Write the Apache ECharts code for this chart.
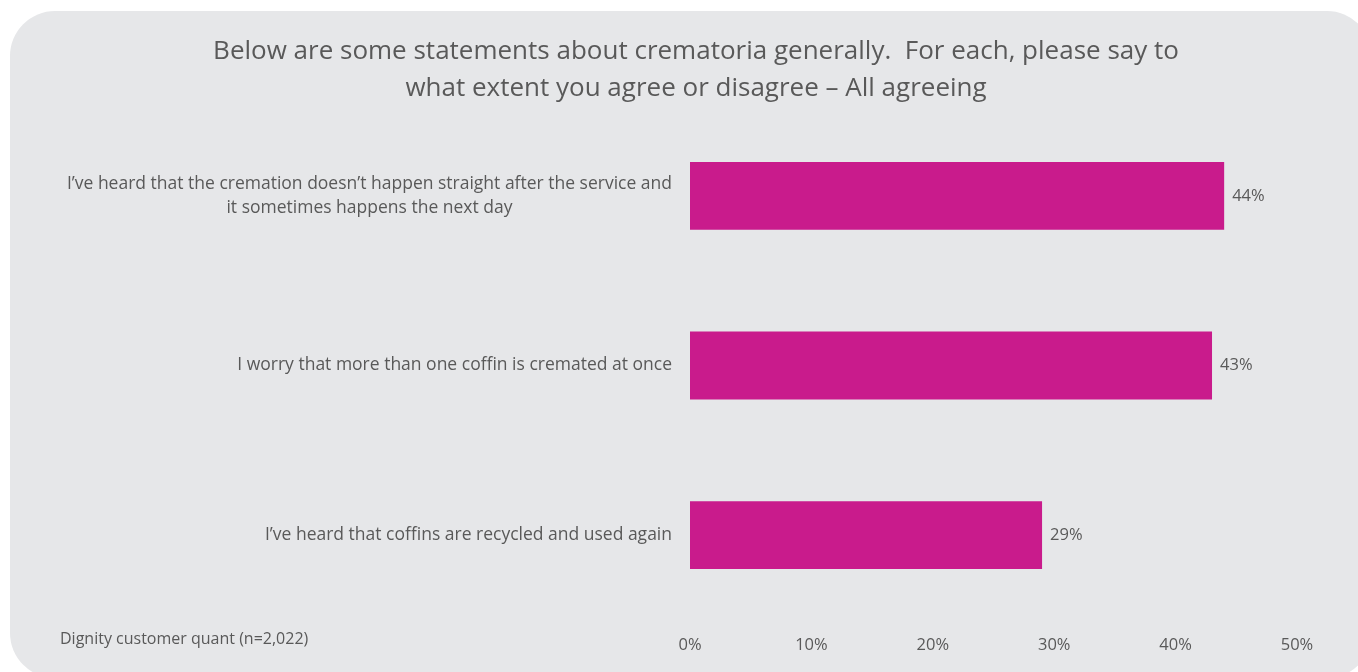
<!DOCTYPE html>
<html>
<head>
<meta charset="utf-8">
<script src="https://cdn.jsdelivr.net/npm/echarts@6/dist/echarts.min.js"></script>
<style>
html,body{margin:0;padding:0;background:#ffffff;}
#chart{width:1358px;height:672px;}
</style>
</head>
<body>
<div id="chart"></div>
<script>
const titleLines = ["Below are some statements about crematoria generally.  For each, please say to", "what extent you agree or disagree \u2013 All agreeing"];
const categories = [
  "I\u2019ve heard that the cremation doesn\u2019t happen straight after the service and\nit sometimes happens the next day",
  "I worry that more than one coffin is cremated at once",
  "I\u2019ve heard that coffins are recycled and used again"
];
const values = [44, 43, 29];
const xTickValues = [0, 10, 20, 30, 40, 50];
const footnote = "Dignity customer quant (n=2,022)";

const FONT = "'Open Sans', 'Noto Sans', sans-serif";
const TEXT = "#595959";

const chart = echarts.init(document.getElementById('chart'), null, {renderer: 'canvas'});
chart.setOption({
  backgroundColor: '#ffffff',
  animation: false,
  graphic: [
    {type: 'rect', z: -10, shape: {x: 10, y: 11, width: 1362, height: 667, r: 45}, style: {fill: '#e6e7e9'}},
    {type: 'text', left: 60, top: 631, style: {text: footnote, font: "16px " + FONT, fill: TEXT}}
  ],
  title: {
    text: titleLines.join('\n'),
    left: 691, top: 28, textAlign: 'center',
    textStyle: {fontFamily: FONT, fontSize: 26, fontWeight: 'normal', color: TEXT, lineHeight: 37}
  },
  grid: {left: 690, right: 61, top: 111, bottom: 52, containLabel: false},
  xAxis: {
    type: 'value', min: xTickValues[0], max: xTickValues[xTickValues.length - 1], interval: 10,
    splitLine: {show: false}, axisLine: {show: false}, axisTick: {show: false},
    axisLabel: {formatter: '{value}%', color: TEXT, fontFamily: FONT, fontSize: 16.5, margin: 17}
  },
  yAxis: {
    type: 'category', data: categories, inverse: true,
    axisLine: {show: false}, axisTick: {show: false},
    axisLabel: {
      color: TEXT, fontFamily: FONT, fontSize: 17.5, margin: 18, lineHeight: 24,
      formatter: function (v) {
        return v.split('\n').map(l => '{c|' + l + '}').join('\n');
      },
      rich: {c: {align: 'center', color: TEXT, fontFamily: FONT, fontSize: 17.5, lineHeight: 24}}
    }
  },
  series: [{
    type: 'bar', data: values, barWidth: '40%',
    itemStyle: {color: '#c91b8c'},
    label: {show: true, position: 'right', distance: 8, formatter: '{c}%', color: TEXT, fontFamily: FONT, fontSize: 16.5}
  }]
});
</script>
</body>
</html>
